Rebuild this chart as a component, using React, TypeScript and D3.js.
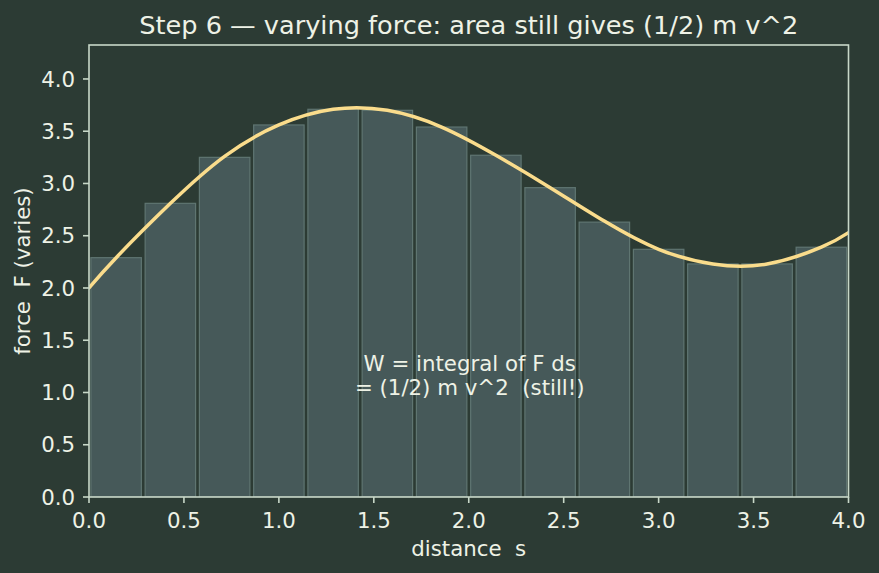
import React from "react";
import * as d3 from "d3";

const TITLE = "Step 6 \u2014 varying force: area still gives (1/2) m v^2";
const X_LABEL = "distance  s";
const Y_LABEL = "force  F (varies)";
const NOTE_LINES = ["W = integral of F ds", "= (1/2) m v^2  (still!)"];

// bar (Riemann strip) heights, 14 equal strips on [0, 4]
const barHeights = [2.29, 2.81, 3.25, 3.56, 3.71, 3.70, 3.54, 3.27, 2.96, 2.63, 2.37, 2.23, 2.23, 2.39];

// curve readings: s positions and force values
const curveS = [0.0, 0.143, 0.429, 0.714, 1.0, 1.286, 1.571, 1.857, 2.143, 2.429, 2.714, 3.0, 3.286, 3.571, 3.857, 4.0];
const curveF = [2.0, 2.29, 2.81, 3.26, 3.56, 3.71, 3.70, 3.54, 3.27, 2.96, 2.64, 2.37, 2.23, 2.23, 2.39, 2.53];

const xTicks = [0, 0.5, 1, 1.5, 2, 2.5, 3, 3.5, 4];
const yTicks = [0, 0.5, 1, 1.5, 2, 2.5, 3, 3.5, 4];

const W = 879;
const H = 573;
const M = { left: 89, right: 848.5, top: 45, bottom: 497 };

const BG = "#2c3b34";
const SPINE = "#c8d8c8";
const TEXT = "#eef2e6";
const BAR_FILL = "#465959";
const BAR_EDGE = "#5f7571";
const CURVE = "#fadc8c";
const FONT = "'DejaVu Sans', sans-serif";
const FS = 21.3;

export default function App() {
  const x = d3.scaleLinear().domain([0, 4]).range([M.left, M.right]);
  const y = d3.scaleLinear().domain([0, 4.325]).range([M.bottom, M.top]);
  const n = barHeights.length;
  const dx = 4 / n;
  const barW = 0.93 * dx;

  const line = d3
    .line<number>()
    .x((_, i) => x(curveS[i]))
    .y((d) => y(d))
    .curve(d3.curveNatural);

  const cx = (M.left + M.right) / 2;
  const cy = (M.top + M.bottom) / 2;

  return (
    <svg
      width={W}
      height={H}
      style={{ position: "absolute", left: 0, top: 0, display: "block" }}
      fontFamily={FONT}
    >
      <rect x={0} y={0} width={W} height={H} fill={BG} />
      <defs>
        <clipPath id="plotclip">
          <rect x={M.left} y={M.top} width={M.right - M.left} height={M.bottom - M.top} />
        </clipPath>
      </defs>
      <g clipPath="url(#plotclip)">
        {barHeights.map((h, i) => {
          const mid = (i + 0.5) * dx;
          return (
            <rect
              key={i}
              x={x(mid - barW / 2)}
              y={y(h)}
              width={x(barW) - x(0)}
              height={y(0) - y(h)}
              fill={BAR_FILL}
              stroke={BAR_EDGE}
              strokeWidth={1.2}
            />
          );
        })}
        <path d={line(curveF) || ""} fill="none" stroke={CURVE} strokeWidth={3.5} strokeLinecap="round" />
      </g>
      {/* spines */}
      <rect
        x={M.left}
        y={M.top}
        width={M.right - M.left}
        height={M.bottom - M.top}
        fill="none"
        stroke={SPINE}
        strokeWidth={1.6}
      />
      {/* x ticks */}
      {xTicks.map((t) => (
        <g key={"x" + t}>
          <line x1={x(t)} x2={x(t)} y1={M.bottom} y2={M.bottom + 6} stroke={SPINE} strokeWidth={1.6} />
          <text x={x(t)} y={528} textAnchor="middle" fontSize={FS} fill={TEXT}>
            {t.toFixed(1)}
          </text>
        </g>
      ))}
      {/* y ticks */}
      {yTicks.map((t) => (
        <g key={"y" + t}>
          <line x1={M.left - 6} x2={M.left} y1={y(t)} y2={y(t)} stroke={SPINE} strokeWidth={1.6} />
          <text x={75} y={y(t)} dy="0.36em" textAnchor="end" fontSize={FS} fill={TEXT}>
            {t.toFixed(1)}
          </text>
        </g>
      ))}
      <text x={cx} y={556} textAnchor="middle" fontSize={FS} fill={TEXT} style={{ whiteSpace: "pre" }}>
        {X_LABEL}
      </text>
      <text
        transform={`translate(29.5, ${cy}) rotate(-90)`}
        textAnchor="middle"
        fontSize={FS}
        fill={TEXT}
        style={{ whiteSpace: "pre" }}
      >
        {Y_LABEL}
      </text>
      <text x={cx} y={34} textAnchor="middle" fontSize={25.6} fill={TEXT}>
        {TITLE}
      </text>
      {NOTE_LINES.map((s, i) => (
        <text
          key={i}
          x={cx + 1}
          y={370.5 + i * 24}
          textAnchor="middle"
          fontSize={FS}
          fill={TEXT}
          style={{ whiteSpace: "pre" }}
        >
          {s}
        </text>
      ))}
    </svg>
  );
}
